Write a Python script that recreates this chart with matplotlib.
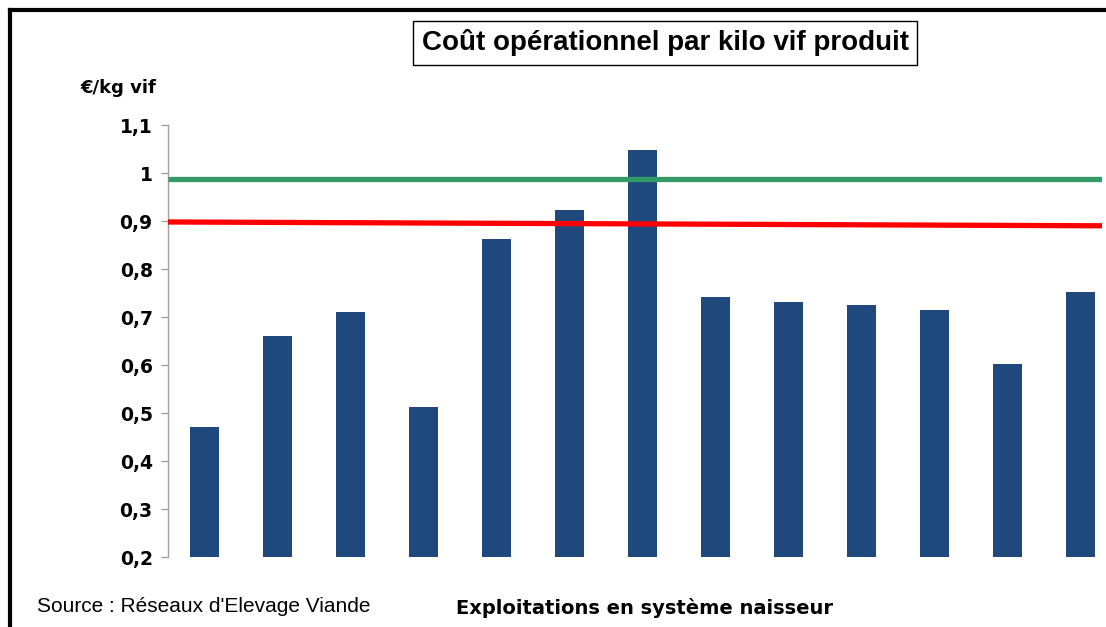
import matplotlib
matplotlib.use('Agg')
import matplotlib.pyplot as plt
from matplotlib.lines import Line2D
import numpy as np

# data
exploitations = np.arange(13)
cout = [0.47, 0.66, 0.71, 0.512, 0.862, 0.922, 1.047, 0.742, 0.731, 0.725, 0.715, 0.602, 0.752]
ligne_verte = [0.988, 0.988]   # left edge, right edge
ligne_rouge = [0.898, 0.890]
yticks = [0.2, 0.3, 0.4, 0.5, 0.6, 0.7, 0.8, 0.9, 1.0, 1.1]
ytick_labels = ['0,2', '0,3', '0,4', '0,5', '0,6', '0,7', '0,8', '0,9', '1', '1,1']

W, H = 1106, 627
fig = plt.figure(figsize=(W / 100, H / 100), dpi=100)
ax = fig.add_axes([168 / W, 70 / H, (1102 - 168) / W, (557 - 125) / H])

ax.bar(exploitations, cout, width=0.4, bottom=0, color='#1F497D', zorder=2)

x_left, x_right = -0.5, 12.3
ax.plot([x_left, x_right], ligne_verte, color='#339966', lw=3.8, zorder=3, solid_capstyle='butt')
ax.plot([x_left, x_right], ligne_rouge, color='#FF0000', lw=3.8, zorder=3, solid_capstyle='butt')

ax.set_xlim(x_left, x_right)
ax.set_ylim(0.2, 1.1)
ax.set_yticks(yticks)
ax.set_yticklabels(ytick_labels, fontfamily='DejaVu Sans', fontweight='bold', fontsize=13.5)
ax.set_xticks([])
for s in ['top', 'right', 'bottom']:
    ax.spines[s].set_visible(False)
ax.spines['left'].set_color('#A0A0A0')
ax.spines['left'].set_linewidth(1)
ax.tick_params(axis='y', length=5, width=1, color='#A0A0A0', pad=6)

fig.text(80 / W, 1 - 88 / H, '€/kg vif', fontfamily='DejaVu Sans', fontweight='bold',
         fontsize=13, va='center', ha='left')

fig.text(665 / W, 1 - 43 / H, 'Coût opérationnel par kilo vif produit', fontfamily='Liberation Sans',
         fontweight='bold', fontsize=20, va='center', ha='center',
         bbox=dict(boxstyle='square,pad=0.3', fc='white', ec='black', lw=1))

fig.text(37 / W, 1 - 606 / H, "Source : Réseaux d'Elevage Viande", fontfamily='Liberation Sans',
         fontsize=15, va='center', ha='left')
fig.text(645 / W, 1 - 608 / H, 'Exploitations en système naisseur', fontfamily='DejaVu Sans',
         fontweight='bold', fontsize=14, va='center', ha='center')

# outer frame (left and top edges visible)
fig.add_artist(Line2D([10 / W, 10 / W], [0, 1 - 10 / H], color='black', lw=3, transform=fig.transFigure))
fig.add_artist(Line2D([10 / W, 1], [1 - 10 / H, 1 - 10 / H], color='black', lw=3, transform=fig.transFigure))

fig.savefig('out.png', dpi=100)
